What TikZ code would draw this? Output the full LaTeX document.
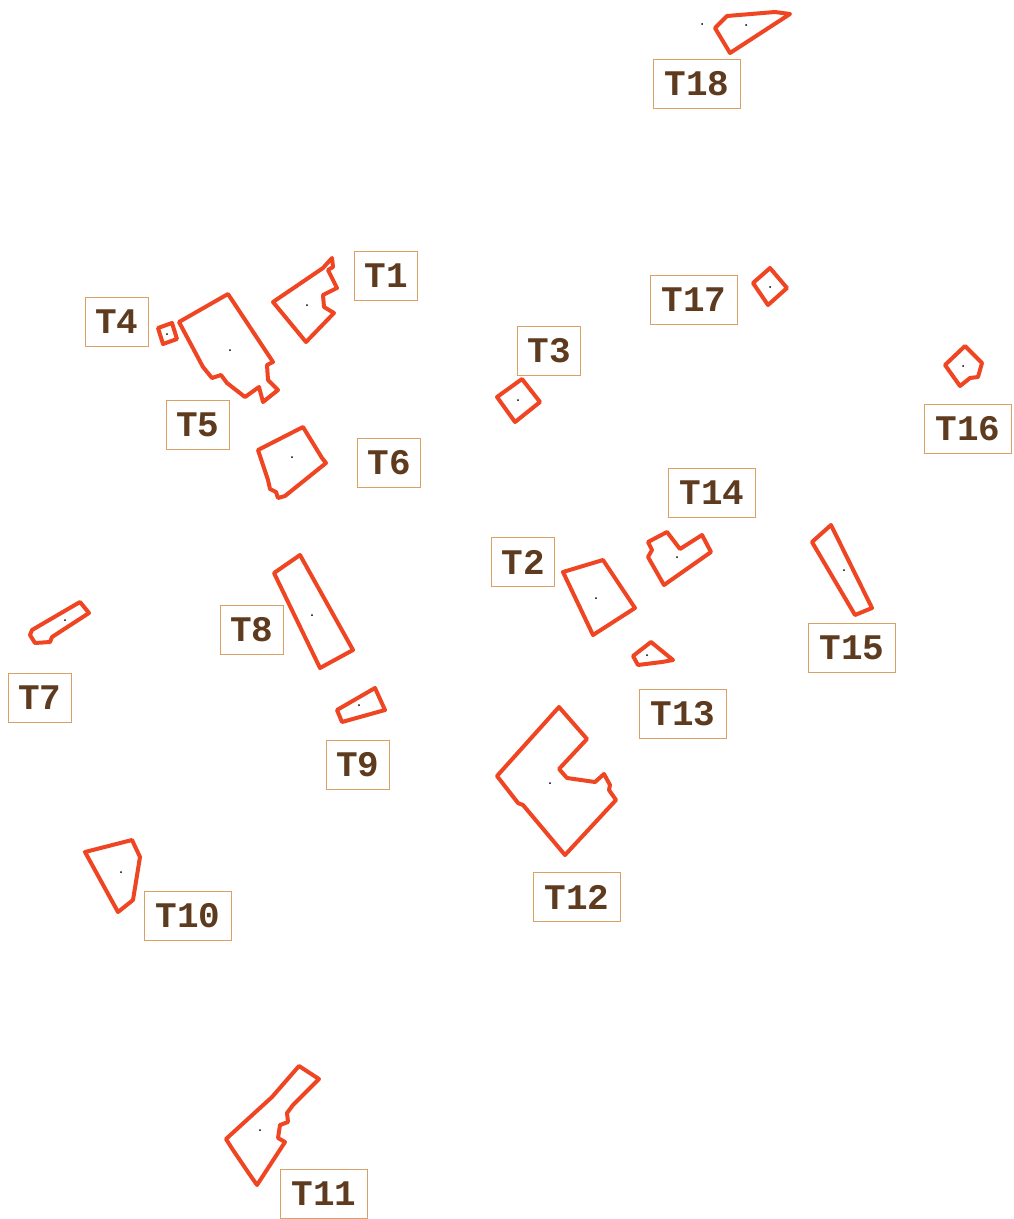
\documentclass[tikz,border=0pt]{standalone}
\usepackage{fontspec}
\setmonofont{Liberation Mono}
\definecolor{plotred}{HTML}{F04522}
\definecolor{labtext}{HTML}{5E3B1E}
\definecolor{labbox}{HTML}{D9A066}
\begin{document}
\begin{tikzpicture}[x=1pt,y=-1pt,
  plot/.style={draw=plotred,line width=4pt,line join=round},
  lab/.style={draw=labbox,line width=1.1pt,fill=white,text=labtext,inner sep=0pt,
    minimum height=49pt,font=\fontsize{36}{36}\selectfont\ttfamily\bfseries},
  lab2/.style={lab,minimum width=63pt},
  lab3/.style={lab,minimum width=87pt},
  ctr/.style={circle,fill=black,inner sep=0pt,minimum size=2pt}]
\useasboundingbox[fill=white] (0,0) rectangle (1014,1219);
% plots
\draw[plot] (715,28) -- (727,16) -- (775,12) -- (790,14) -- (730,53) -- cycle;
\draw[plot] (273,302) -- (323,268) -- (332,258) -- (333,267) -- (328,270) -- (337,288) -- (323,295) -- (324,307) -- (334,313) -- (306,342) -- cycle;
\draw[plot] (158,328) -- (172,323) -- (177,339) -- (163,344) -- cycle;
\draw[plot] (179,322) -- (228,294) -- (273,362) -- (267,365) -- (268,380) -- (278,390) -- (263,402) -- (259,387) -- (245,397) -- (227,383) -- (221,375) -- (212,378) -- (203,367) -- cycle;
\draw[plot] (258,450) -- (303,427) -- (322,458) -- (326,463) -- (285,496) -- (278,498) -- (276,492) -- (270,489) -- (268,480) -- cycle;
\draw[plot] (497,397) -- (522,379) -- (540,402) -- (515,422) -- cycle;
\draw[plot] (753,283) -- (770,268) -- (787,288) -- (768,305) -- cycle;
\draw[plot] (945,365) -- (965,346) -- (982,363) -- (978,377) -- (970,378) -- (960,386) -- cycle;
\draw[plot] (648,542) -- (667,532) -- (680,549) -- (702,535) -- (711,552) -- (664,585) -- (648,557) -- (652,550) -- cycle;
\draw[plot] (563,572) -- (603,560) -- (635,608) -- (593,635) -- cycle;
\draw[plot] (812,542) -- (831,525) -- (872,608) -- (855,615) -- cycle;
\draw[plot] (274,573) -- (300,555) -- (353,650) -- (320,668) -- cycle;
\draw[plot] (32,630) -- (80,602) -- (89,613) -- (52,637) -- (50,642) -- (35,643) -- (30,635) -- cycle;
\draw[plot] (633,656) -- (651,642) -- (673,660) -- (662,662) -- (638,665) -- cycle;
\draw[plot] (337,710) -- (375,688) -- (385,710) -- (342,722) -- cycle;
\draw[plot] (559,707) -- (587,739) -- (559,769) -- (567,778) -- (595,782) -- (604,774) -- (610,785) -- (609,790) -- (616,800) -- (565,855) -- (523,805) -- (518,803) -- (497,776) -- cycle;
\draw[plot] (85,852) -- (132,840) -- (140,857) -- (133,900) -- (118,912) -- cycle;
\draw[plot] (299,1066) -- (319,1079) -- (293,1105) -- (287,1113) -- (288,1122) -- (280,1125) -- (278,1138) -- (285,1142) -- (257,1185) -- (250,1175) -- (233,1150) -- (226,1139) -- (272,1097) -- cycle;
% centre dots
\foreach \p/\q in {702/24,746/25,307/305,167/334,230/350,292/457,518/400,770/287,963/366,677/557,596/598,844/570,312/615,65/620,647/655,359/705,550/783,121/872,260/1130}
  \node[ctr] at (\p,\q) {};
% labels
\node[lab3] (t18) at (697,84) {T18};
\node[lab2] (t1) at (386,276) {T1};
\node[lab2] (t4) at (117,322) {T4};
\node[lab2] (t5) at (198,425) {T5};
\node[lab2] (t3) at (549,351) {T3};
\node[lab3] (t17) at (694,300) {T17};
\node[lab3] (t16) at (968,429) {T16};
\node[lab2] (t6) at (389,463) {T6};
\node[lab3] (t14) at (712,493) {T14};
\node[lab2] (t2) at (523,562) {T2};
\node[lab3] (t15) at (852,648) {T15};
\node[lab2] (t8) at (252,630) {T8};
\node[lab2] (t7) at (40,698) {T7};
\node[lab3] (t13) at (683,714) {T13};
\node[lab2] (t9) at (358,765) {T9};
\node[lab3] (t12) at (577,897) {T12};
\node[lab3] (t10) at (188,916) {T10};
\node[lab3] (t11) at (324,1194) {T11};
\end{tikzpicture}
\end{document}
